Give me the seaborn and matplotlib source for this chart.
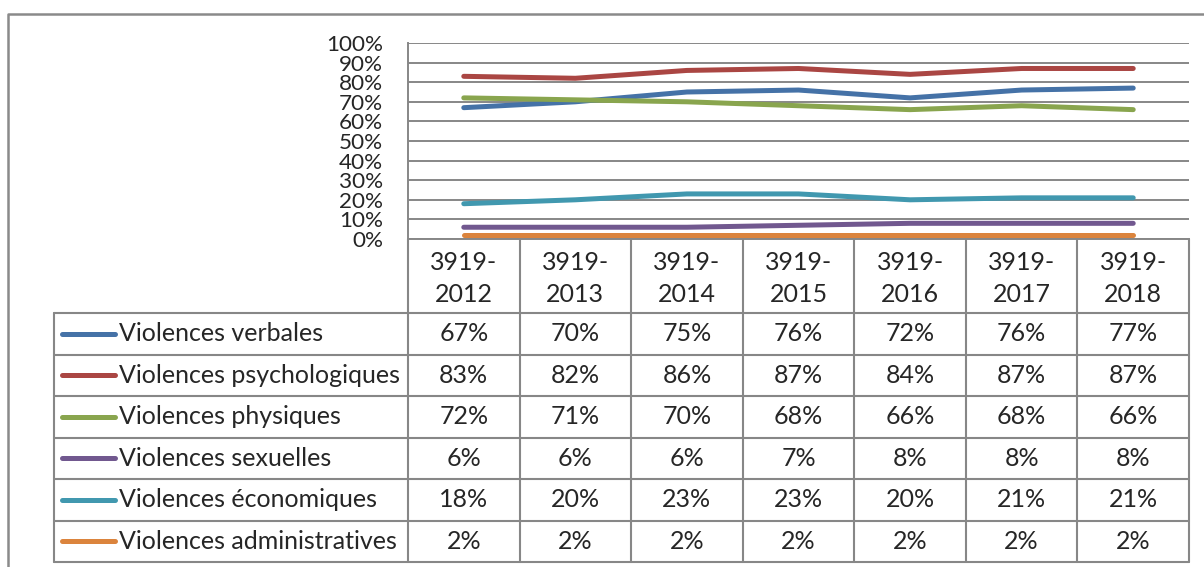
import numpy as np
import pandas as pd
import matplotlib
matplotlib.use("Agg")
import matplotlib.pyplot as plt
import seaborn as sns

# --- data ---
periods = ["3919-2012", "3919-2013", "3919-2014", "3919-2015",
           "3919-2016", "3919-2017", "3919-2018"]
series_names = ["Violences verbales", "Violences psychologiques", "Violences physiques",
                "Violences sexuelles", "Violences économiques", "Violences administratives"]
verbales = [67, 70, 75, 76, 72, 76, 77]
psychologiques = [83, 82, 86, 87, 84, 87, 87]
physiques = [72, 71, 70, 68, 66, 68, 66]
sexuelles = [6, 6, 6, 7, 8, 8, 8]
economiques = [18, 20, 23, 23, 20, 21, 21]
administratives = [2, 2, 2, 2, 2, 2, 2]
all_values = [verbales, psychologiques, physiques, sexuelles, economiques, administratives]
colors = ["#4572A7", "#AA4643", "#89A54E", "#71588F", "#4198AF", "#DB843D"]
y_ticks = list(range(0, 101, 10))

W, H = 1204, 567
GRID = "#878787"

sns.set_style("white")
plt.rcParams["font.family"] = ["Lato", "DejaVu Sans"]

rows = []
for name, vals in zip(series_names, all_values):
    for i, v in enumerate(vals):
        rows.append({"x": i, "type": name, "valeur": v})
df = pd.DataFrame(rows)

fig = plt.figure(figsize=(W / 100, H / 100), dpi=100)

# overlay in pixel coordinates for frame + data table
over = fig.add_axes([0, 0, 1, 1])
over.set_xlim(0, W)
over.set_ylim(H, 0)
over.axis("off")

# plot area (pixel geometry from the reference)
L, R, TOP, BOT = 408, 1189, 43, 239
ax = fig.add_axes([L / W, 1 - BOT / H, (R - L) / W, (BOT - TOP) / H])
ax.patch.set_alpha(0)

sns.lineplot(data=df, x="x", y="valeur", hue="type", hue_order=series_names,
             palette=colors, linewidth=3.6, legend=False, ax=ax,
             solid_capstyle="round", solid_joinstyle="round", zorder=3)

ax.set_xlim(-0.5, len(periods) - 0.5)
ax.set_ylim(0, 100)
ax.set_yticks(y_ticks)
ax.set_yticklabels([f"{t}%" for t in y_ticks], fontsize=16.2)
ax.set_xticks([])
ax.set_xlabel("")
ax.set_ylabel("")
ax.yaxis.grid(True, color=GRID, linewidth=1.4)
ax.tick_params(axis="y", length=0, pad=18)
for s in ["top", "right"]:
    ax.spines[s].set_visible(False)
for s in ["left", "bottom"]:
    ax.spines[s].set_color(GRID)
    ax.spines[s].set_linewidth(1.4)

# outer chart frame
over.plot([8, 8, W], [H, 14, 14], color="#8a8a8a", lw=1.8)

# data table
col_edges = np.linspace(L, R, len(periods) + 1)
row_edges = np.linspace(313, 562, len(series_names) + 1)
LEG_L = 54
tcol = GRID
for x in col_edges:
    over.plot([x, x], [BOT, row_edges[-1]], color=tcol, lw=1.5)
over.plot([LEG_L, LEG_L], [row_edges[0], row_edges[-1]], color=tcol, lw=1.5)
for y in row_edges:
    over.plot([LEG_L, R], [y, y], color=tcol, lw=1.5)

centers = (col_edges[:-1] + col_edges[1:]) / 2
fs = 18
for cx, p in zip(centers, periods):
    a, b = p.split("-")
    over.text(cx, 263, a + "-", ha="center", va="center", fontsize=fs)
    over.text(cx, 294, b, ha="center", va="center", fontsize=fs)

for r, (name, vals, c) in enumerate(zip(series_names, all_values, colors)):
    cy = (row_edges[r] + row_edges[r + 1]) / 2
    over.plot([62, 115], [cy, cy], color=c, lw=3.6, solid_capstyle="round")
    over.text(119, cy, name, ha="left", va="center", fontsize=fs)
    for cx, v in zip(centers, vals):
        over.text(cx, cy, f"{v}%", ha="center", va="center", fontsize=fs)

fig.savefig("out.png", dpi=100)
